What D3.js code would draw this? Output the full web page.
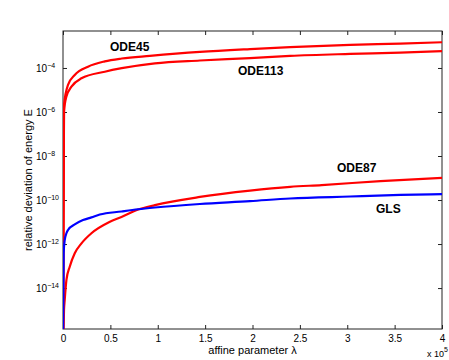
<!DOCTYPE html>
<html>
<head>
<meta charset="utf-8">
<script src="https://cdn.jsdelivr.net/npm/d3@7"></script>
<style>
  body { margin: 0; background: #fff; }
  text { font-family: "Liberation Sans", Arial, sans-serif; }
</style>
</head>
<body>
<div id="container"></div>
<script>
const width = 449,
  height = 360,
  margin = { top: 31, bottom: 31, left: 63, right: 7 };

// lambda in units of 1e5, values as log10(E)
const lambdaODE45 = [0, 0.0106, 0.053, 0.124, 0.264, 0.441, 0.62, 0.917, 1.445, 1.974, 2.397, 3.03, 3.56, 4.0]
const logODE45 = [-17, -5.68, -4.77, -4.32, -3.94, -3.70, -3.57, -3.45, -3.27, -3.14, -3.05, -2.95, -2.89, -2.83]

const lambdaODE113 = [0, 0.0106, 0.036, 0.089, 0.195, 0.441, 0.62, 0.97, 1.445, 1.974, 2.397, 3.03, 3.56, 4.0]
const logODE113 = [-17, -5.99, -5.30, -4.85, -4.47, -4.17, -4.01, -3.79, -3.66, -3.55, -3.45, -3.36, -3.30, -3.23]

const lambdaODE87 = [0, 0.0106, 0.018, 0.036, 0.071, 0.124, 0.195, 0.30, 0.49, 0.617, 0.793, 0.97, 1.445, 1.974, 2.397, 2.73, 3.35, 4.0]
const logODE87 = [-17, -15.0, -14.55, -13.64, -13.03, -12.42, -11.97, -11.51, -11.0, -10.77, -10.43, -10.23, -9.86, -9.57, -9.40, -9.32, -9.14, -8.99]

const lambdaGLS = [0, 0.007, 0.018, 0.036, 0.053, 0.124, 0.211, 0.30, 0.388, 0.617, 0.793, 0.97, 1.445, 1.974, 2.397, 3.03, 3.56, 4.0]
const logGLS = [-17, -12.41, -11.82, -11.51, -11.36, -11.11, -10.91, -10.79, -10.66, -10.52, -10.42, -10.34, -10.18, -10.05, -9.93, -9.84, -9.77, -9.73]

const xTicks = [0, 0.5, 1, 1.5, 2, 2.5, 3, 3.5, 4]
const yTickExps = [-14, -12, -10, -8, -6, -4]

const series = [
  { name: "ODE45", x: lambdaODE45, y: logODE45, color: "#ff0000", lx: 110, ly: 51 },
  { name: "ODE113", x: lambdaODE113, y: logODE113, color: "#ff0000", lx: 238, ly: 75 },
  { name: "ODE87", x: lambdaODE87, y: logODE87, color: "#ff0000", lx: 337, ly: 172 },
  { name: "GLS", x: lambdaGLS, y: logGLS, color: "#0000ff", lx: 376, ly: 213 }
]

const xScale = d3.scaleLinear()
  .domain([0, 4])
  .range([margin.left, width - margin.right])

const yScale = d3.scaleLog()
  .domain([Math.pow(10, -15.86), Math.pow(10, -2.32)])
  .range([height - margin.bottom, margin.top])

const svg = d3.select("#container")
  .append("svg")
  .attr("width", width)
  .attr("height", height)

svg.append("clipPath")
  .attr("id", "plotclip")
  .append("rect")
  .attr("x", margin.left)
  .attr("y", margin.top)
  .attr("width", width - margin.left - margin.right)
  .attr("height", height - margin.top - margin.bottom)

// frame
svg.append("rect")
  .attr("x", margin.left)
  .attr("y", margin.top)
  .attr("width", width - margin.left - margin.right)
  .attr("height", height - margin.top - margin.bottom)
  .attr("fill", "none")
  .attr("stroke", "#222")
  .attr("stroke-width", 1)

const xAxis = svg.append("g")
  .attr("transform", `translate(0,${height - margin.bottom})`)
  .call(d3.axisBottom(xScale).tickValues(xTicks).tickSizeInner(-4).tickSizeOuter(0).tickPadding(6).tickFormat(d3.format("")))
xAxis.select(".domain").remove()

const xAxisTop = svg.append("g")
  .attr("transform", `translate(0,${margin.top})`)
  .call(d3.axisTop(xScale).tickValues(xTicks).tickSizeInner(-4).tickSizeOuter(0).tickFormat(""))
xAxisTop.select(".domain").remove()

const yVals = yTickExps.map(e => Math.pow(10, e))

const yAxis = svg.append("g")
  .attr("transform", `translate(${margin.left},0)`)
  .call(d3.axisLeft(yScale).tickValues(yVals).tickSizeInner(-4).tickSizeOuter(0).tickPadding(27).tickFormat(""))
yAxis.select(".domain").remove()

const yAxisRight = svg.append("g")
  .attr("transform", `translate(${width - margin.right},0)`)
  .call(d3.axisRight(yScale).tickValues(yVals).tickSizeInner(-4).tickSizeOuter(0).tickFormat(""))
yAxisRight.select(".domain").remove()

svg.selectAll(".tick line").attr("stroke", "#222")
svg.selectAll(".tick text").style("font-size", "10px").attr("fill", "#000")
  .style("font-family", "'Liberation Sans', Arial, sans-serif")

// MATLAB style: exponent labels start at the same x
yAxis.selectAll(".tick text")
  .attr("text-anchor", "start")
  .each(function(d, i) {
    const t = d3.select(this)
    t.append("tspan").text("10")
    t.append("tspan").attr("dy", "-4").style("font-size", "7px").text("\u2212" + Math.abs(yTickExps[i]))
  })

const line = d3.line()
  .x(d => xScale(d[0]))
  .y(d => yScale(Math.pow(10, d[1])))
  .curve(d3.curveMonotoneX)

svg.append("g")
  .attr("clip-path", "url(#plotclip)")
  .selectAll("path.series")
  .data(series)
  .join("path")
  .attr("class", "series")
  .attr("d", s => line(s.x.map((v, i) => [v, s.y[i]])))
  .attr("fill", "none")
  .attr("stroke", s => s.color)
  .attr("stroke-width", 2.2)

svg.selectAll("text.label")
  .data(series)
  .join("text")
  .attr("class", "label")
  .attr("x", s => s.lx)
  .attr("y", s => s.ly)
  .style("font-size", "12px")
  .style("font-weight", "bold")
  .text(s => s.name)

svg.append("text")
  .attr("text-anchor", "middle")
  .attr("x", (margin.left + width - margin.right) / 2)
  .attr("y", 354)
  .style("font-size", "11px")
  .text("affine parameter \u03bb")

const expo = svg.append("text")
  .attr("x", 427)
  .attr("y", 357)
  .style("font-size", "9px")
expo.append("tspan").text("x 10")
expo.append("tspan").attr("dy", -5).style("font-size", "7px").text("5")

svg.append("text")
  .attr("text-anchor", "middle")
  .attr("transform", `translate(32,${(margin.top + height - margin.bottom) / 2}) rotate(-90)`)
  .style("font-size", "11px")
  .text("relative deviation of energy E")
</script>
</body>
</html>
